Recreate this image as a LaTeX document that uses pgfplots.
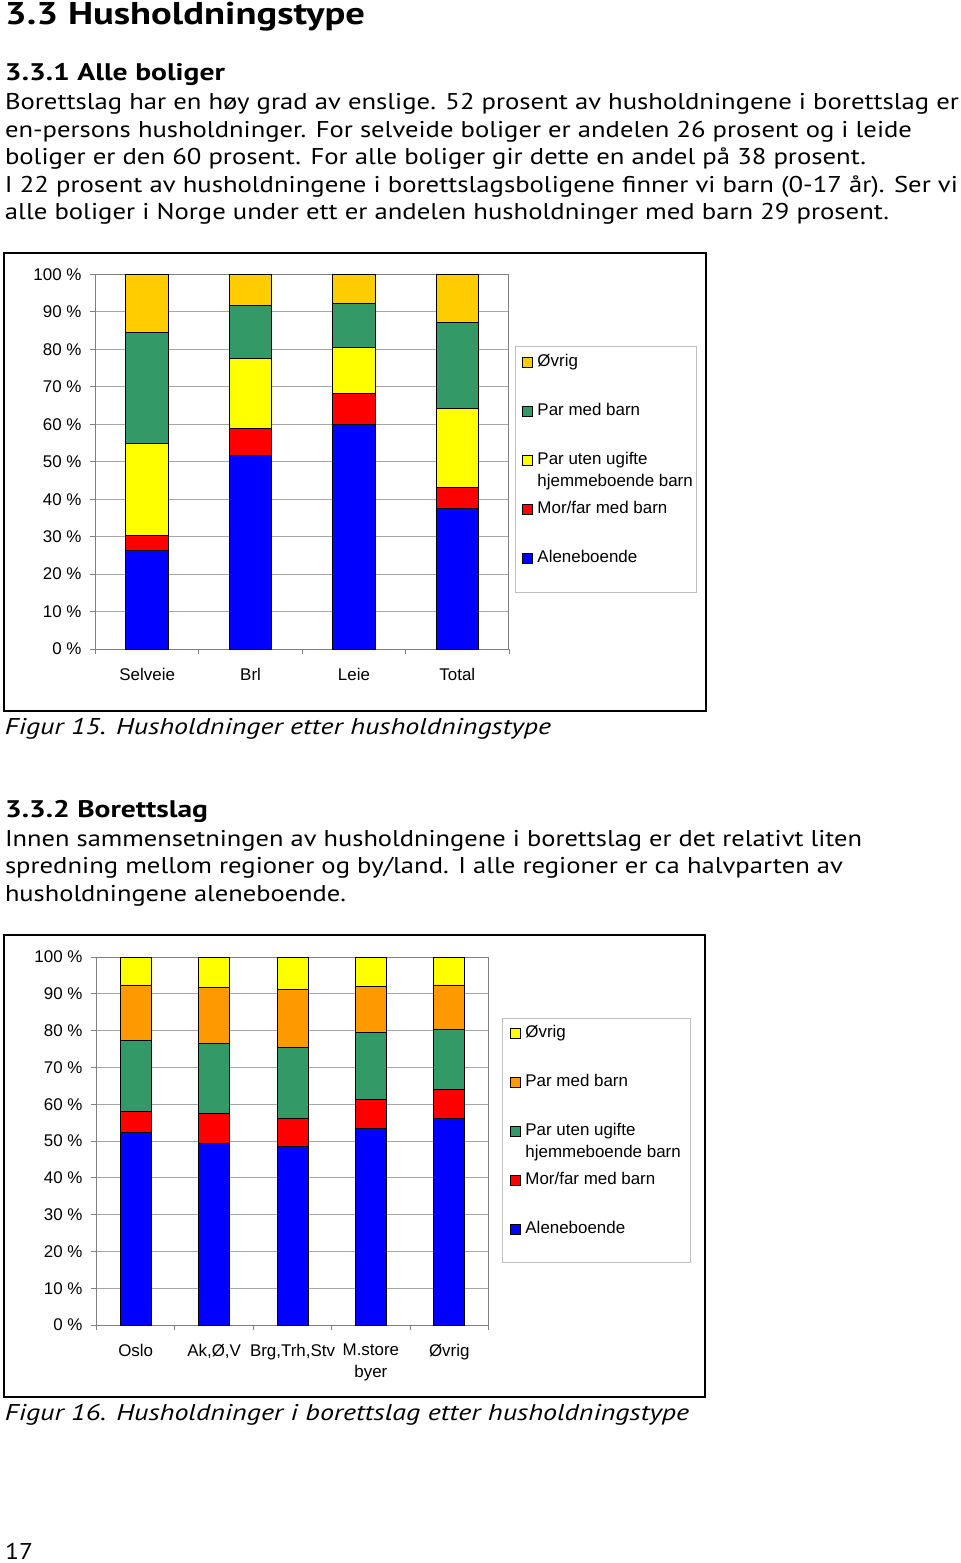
\documentclass[border=0pt]{standalone}
\usepackage{pgfplots}
\pgfplotsset{compat=1.18}
\usepackage{pgfplotstable}
\usepackage{graphicx}
\usepackage{fontspec}
\setmainfont{PT Sans}
\newfontfamily\chartfont{Liberation Sans}

\definecolor{cblue}{HTML}{0000FF}
\definecolor{cred}{HTML}{FF0000}
\definecolor{cyellow}{HTML}{FFFF00}
\definecolor{cgreen}{HTML}{339966}
\definecolor{cgold}{HTML}{FFCC00}
\definecolor{corange}{HTML}{FF9900}

% Figur 15: x alene morfar paruten parmed ovrig
\pgfplotstableread{
x alene morfar paruten parmed ovrig
0 26.2 4.0 24.7 29.5 15.6
1 51.6 7.2 18.7 14.3 8.2
2 60.0 8.3 12.1 11.8 7.8
3 37.6 5.6 20.9 23.2 12.7
}\tabA

% Figur 16
\pgfplotstableread{
x alene morfar paruten parmed ovrig
0 52.3 5.7 19.3 15.1 7.6
1 49.2 8.4 18.8 15.3 8.3
2 48.6 7.4 19.5 15.7 8.8
3 53.4 7.9 18.2 12.5 8.0
4 56.1 7.8 16.4 12.1 7.6
}\tabB

\newcommand\txtline[5]{%
  \node[anchor=base west, inner sep=0pt, outer sep=0pt] at ({#1*0.75pt},{-#2*0.75pt})
    {\resizebox{\dimexpr #3pt*3/4\relax}{\height}{#4#5}};}

\newcommand\bodyfont{\fontsize{17.1}{20}\selectfont}
\newcommand\headfont{\fontsize{23.6}{28}\selectfont\bfseries}
\newcommand\subfont{\fontsize{18}{22}\selectfont\bfseries}
\newcommand\capfont{\fontsize{17.1}{20}\selectfont\itshape}
\newcommand\chartsz{\chartfont\fontsize{12.7}{16.5}\selectfont}

\pgfplotsset{
  mychart/.style={
    scale only axis, anchor=south west,
    ybar stacked,
    ymin=0, ymax=100,
    ytick={0,10,...,100},
    /pgf/number format/assume math mode=true,
    yticklabel={\pgfmathprintnumber{\tick}\ \%},
    x tick label as interval,
    tick align=outside,
    xtick pos=bottom, ytick pos=left,
    major tick length=4pt,
    tick style={draw=gray, line width=0.7pt},
    axis line style={draw=gray, line width=0.75pt},
    ymajorgrids, major grid style={draw=gray!70, line width=0.7pt},
    ticklabel style={font=\chartsz},
    yticklabel style={xshift=-3pt},
    xticklabel style={yshift=-6.75pt},
    every axis plot/.append style={draw=black, line width=0.7pt},
    reverse legend,
    legend image code/.code={\draw[##1,draw=black,line width=0.6pt] (0pt,0pt) rectangle (7.5pt,7.5pt);},
  }
}

\begin{document}
\begin{tikzpicture}
\path[use as bounding box, fill=white] (0,0) rectangle (720pt,-1172.25pt);

% text
\txtline{5}{25}{360}{\headfont}{3.3 Husholdningstype}
\txtline{5}{80}{220}{\subfont}{3.3.1 Alle boliger}
\txtline{5}{109}{954}{\bodyfont}{Borettslag har en høy grad av enslige. 52 prosent av husholdningene i borettslag er}
\txtline{5}{137}{907}{\bodyfont}{en-persons husholdninger. For selveide boliger er andelen 26 prosent og i leide}
\txtline{5}{164}{861}{\bodyfont}{boliger er den 60 prosent. For alle boliger gir dette en andel på 38 prosent.}
\txtline{5}{192}{953}{\bodyfont}{I 22 prosent av husholdningene i borettslagsboligene finner vi barn (0-17 år). Ser vi}
\txtline{5}{219}{884}{\bodyfont}{alle boliger i Norge under ett er andelen husholdninger med barn 29 prosent.}

\txtline{5}{734}{546}{\capfont}{Figur 15. Husholdninger etter husholdningstype}

\txtline{5}{817}{203}{\subfont}{3.3.2 Borettslag}
\txtline{5}{846}{857}{\bodyfont}{Innen sammensetningen av husholdningene i borettslag er det relativt liten}
\txtline{5}{873}{838}{\bodyfont}{spredning mellom regioner og by/land. I alle regioner er ca halvparten av}
\txtline{5}{901}{341}{\bodyfont}{husholdningene aleneboende.}

\txtline{5}{1420}{684}{\capfont}{Figur 16. Husholdninger i borettslag etter husholdningstype}
\txtline{5}{1559}{28}{\bodyfont}{17}

% frames
\draw[black, line width=1.1pt] (3pt,-189.75pt) rectangle (529.5pt,-533.25pt);
\draw[black, line width=1.1pt] (3pt,-701.25pt) rectangle (528.75pt,-1047.75pt);
\draw[gray!50, line width=0.75pt] (386.25pt,-259.5pt) rectangle (522pt,-444pt);
\draw[gray!50, line width=0.75pt] (376.5pt,-763.5pt) rectangle (517.5pt,-946.5pt);

\begin{axis}[mychart,
  at={(71.625pt,-486.75pt)},
  width=310.125pt, height=280.875pt,
  bar width=31.9pt,
  xmin=-0.5, xmax=3.5,
  xtick={-0.5,0.5,1.5,2.5,3.5},
  xticklabels={Selveie,Brl,Leie,Total},
  legend style={at={(1.0315,0.787)}, anchor=north west, draw=none, fill=none,
    inner sep=0pt, outer sep=0pt, row sep=24.55pt, column sep=3.5pt,
    font=\chartsz, cells={anchor=base west},
    nodes={inner sep=0pt, text height=9.5pt, text depth=2.7pt}},
]
\addplot[fill=cblue] table[x=x,y=alene]{\tabA};
\addlegendentry{Aleneboende}
\addplot[fill=cred] table[x=x,y=morfar]{\tabA};
\addlegendentry{Mor/far med barn}
\addplot[fill=cyellow] table[x=x,y=paruten]{\tabA};
\addlegendentry{\smash{\begin{tabular}[t]{@{}l@{}}Par uten ugifte\\hjemmeboende barn\end{tabular}}}
\addplot[fill=cgreen] table[x=x,y=parmed]{\tabA};
\addlegendentry{Par med barn}
\addplot[fill=cgold] table[x=x,y=ovrig]{\tabA};
\addlegendentry{Øvrig}
\end{axis}

\begin{axis}[mychart,
  at={(72.375pt,-993.75pt)},
  width=294pt, height=276pt,
  bar width=23.25pt,
  xmin=-0.5, xmax=4.5,
  xtick={-0.5,0.5,1.5,2.5,3.5,4.5},
  xticklabels={Oslo,{Ak,Ø,V},{Brg,Trh,Stv},{M.store\\byer},Øvrig},
  xticklabel style={align=center},
  legend style={at={(1.0548,0.8144)}, anchor=north west, draw=none, fill=none,
    inner sep=0pt, outer sep=0pt, row sep=24.55pt, column sep=3.5pt,
    font=\chartsz, cells={anchor=base west},
    nodes={inner sep=0pt, text height=9.5pt, text depth=2.7pt}},
]
\addplot[fill=cblue] table[x=x,y=alene]{\tabB};
\addlegendentry{Aleneboende}
\addplot[fill=cred] table[x=x,y=morfar]{\tabB};
\addlegendentry{Mor/far med barn}
\addplot[fill=cgreen] table[x=x,y=paruten]{\tabB};
\addlegendentry{\smash{\begin{tabular}[t]{@{}l@{}}Par uten ugifte\\hjemmeboende barn\end{tabular}}}
\addplot[fill=corange] table[x=x,y=parmed]{\tabB};
\addlegendentry{Par med barn}
\addplot[fill=cyellow] table[x=x,y=ovrig]{\tabB};
\addlegendentry{Øvrig}
\end{axis}
\end{tikzpicture}
\end{document}
